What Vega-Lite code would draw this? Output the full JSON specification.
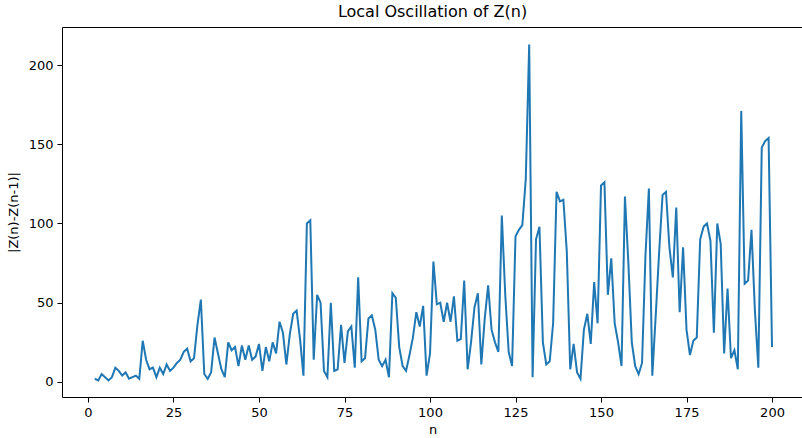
{
  "$schema": "https://vega.github.io/schema/vega-lite/v6.json",
  "width": 741,
  "height": 370,
  "autosize": "none",
  "padding": {"left": 62, "top": 27, "right": 0, "bottom": 41},
  "background": "white",
  "config": {
    "font": "DejaVu Sans",
    "view": {"stroke": "black", "strokeWidth": 1},
    "axis": {"grid": false, "domain": false, "tickColor": "black", "tickSize": 5, "tickWidth": 1, "labelColor": "black", "labelFontSize": 13, "labelPadding": 4, "titleColor": "black", "titleFontSize": 13, "titleFontWeight": "normal", "labelFont": "DejaVu Sans", "titleFont": "DejaVu Sans"}
  },
  "title": {"text": "Local Oscillation of Z(n)", "fontSize": 16, "fontWeight": "normal", "font": "DejaVu Sans", "color": "black", "offset": 7},
  "data": {"values": [
    {"n":2,"v":2},{"n":3,"v":1},{"n":4,"v":5},{"n":5,"v":3},{"n":6,"v":1},{"n":7,"v":3},{"n":8,"v":9},{"n":9,"v":7},{"n":10,"v":4},
    {"n":11,"v":6},{"n":12,"v":2},{"n":13,"v":3},{"n":14,"v":4},{"n":15,"v":2},{"n":16,"v":26},{"n":17,"v":14},{"n":18,"v":8},{"n":19,"v":9},{"n":20,"v":3},
    {"n":21,"v":9},{"n":22,"v":5},{"n":23,"v":11},{"n":24,"v":7},{"n":25,"v":9},{"n":26,"v":12},{"n":27,"v":14},{"n":28,"v":19},{"n":29,"v":21},{"n":30,"v":13},
    {"n":31,"v":15},{"n":32,"v":36},{"n":33,"v":52},{"n":34,"v":5},{"n":35,"v":2},{"n":36,"v":6},{"n":37,"v":28},{"n":38,"v":18},{"n":39,"v":8},{"n":40,"v":3},
    {"n":41,"v":25},{"n":42,"v":20},{"n":43,"v":22},{"n":44,"v":10},{"n":45,"v":23},{"n":46,"v":14},{"n":47,"v":23},{"n":48,"v":14},{"n":49,"v":16},{"n":50,"v":24},
    {"n":51,"v":7},{"n":52,"v":22},{"n":53,"v":13},{"n":54,"v":25},{"n":55,"v":18},{"n":56,"v":38},{"n":57,"v":31},{"n":58,"v":11},{"n":59,"v":30},{"n":60,"v":43},
    {"n":61,"v":45},{"n":62,"v":27},{"n":63,"v":4},{"n":64,"v":100},{"n":65,"v":102},{"n":66,"v":14},{"n":67,"v":55},{"n":68,"v":50},{"n":69,"v":7},{"n":70,"v":3},
    {"n":71,"v":50},{"n":72,"v":7},{"n":73,"v":8},{"n":74,"v":36},{"n":75,"v":12},{"n":76,"v":32},{"n":77,"v":35},{"n":78,"v":9},{"n":79,"v":66},{"n":80,"v":13},
    {"n":81,"v":15},{"n":82,"v":40},{"n":83,"v":42},{"n":84,"v":33},{"n":85,"v":14},{"n":86,"v":10},{"n":87,"v":14},{"n":88,"v":3},{"n":89,"v":56},{"n":90,"v":53},
    {"n":91,"v":22},{"n":92,"v":10},{"n":93,"v":7},{"n":94,"v":17},{"n":95,"v":28},{"n":96,"v":44},{"n":97,"v":35},{"n":98,"v":48},{"n":99,"v":4},{"n":100,"v":18},
    {"n":101,"v":76},{"n":102,"v":49},{"n":103,"v":50},{"n":104,"v":38},{"n":105,"v":50},{"n":106,"v":38},{"n":107,"v":54},{"n":108,"v":26},{"n":109,"v":27},{"n":110,"v":64},
    {"n":111,"v":8},{"n":112,"v":25},{"n":113,"v":47},{"n":114,"v":56},{"n":115,"v":11},{"n":116,"v":40},{"n":117,"v":61},{"n":118,"v":33},{"n":119,"v":25},{"n":120,"v":19},
    {"n":121,"v":105},{"n":122,"v":55},{"n":123,"v":19},{"n":124,"v":10},{"n":125,"v":92},{"n":126,"v":96},{"n":127,"v":99},{"n":128,"v":128},{"n":129,"v":213},{"n":130,"v":3},
    {"n":131,"v":90},{"n":132,"v":98},{"n":133,"v":25},{"n":134,"v":11},{"n":135,"v":13},{"n":136,"v":37},{"n":137,"v":120},{"n":138,"v":114},{"n":139,"v":115},{"n":140,"v":82},
    {"n":141,"v":8},{"n":142,"v":24},{"n":143,"v":6},{"n":144,"v":2},{"n":145,"v":33},{"n":146,"v":43},{"n":147,"v":24},{"n":148,"v":63},{"n":149,"v":37},{"n":150,"v":124},
    {"n":151,"v":126},{"n":152,"v":55},{"n":153,"v":78},{"n":154,"v":37},{"n":155,"v":25},{"n":156,"v":10},{"n":157,"v":117},{"n":158,"v":75},{"n":159,"v":25},{"n":160,"v":10},
    {"n":161,"v":5},{"n":162,"v":12},{"n":163,"v":80},{"n":164,"v":122},{"n":165,"v":4},{"n":166,"v":42},{"n":167,"v":82},{"n":168,"v":118},{"n":169,"v":120},{"n":170,"v":85},
    {"n":171,"v":66},{"n":172,"v":110},{"n":173,"v":44},{"n":174,"v":85},{"n":175,"v":33},{"n":176,"v":17},{"n":177,"v":26},{"n":178,"v":28},{"n":179,"v":90},{"n":180,"v":98},
    {"n":181,"v":100},{"n":182,"v":89},{"n":183,"v":31},{"n":184,"v":100},{"n":185,"v":87},{"n":186,"v":18},{"n":187,"v":59},{"n":188,"v":15},{"n":189,"v":20},{"n":190,"v":8},
    {"n":191,"v":171},{"n":192,"v":62},{"n":193,"v":64},{"n":194,"v":96},{"n":195,"v":45},{"n":196,"v":9},{"n":197,"v":148},{"n":198,"v":152},{"n":199,"v":154},{"n":200,"v":22}
  ]},
  "mark": {"type": "line", "color": "#1f77b4", "strokeWidth": 2, "clip": true},
  "encoding": {
    "x": {"field": "n", "type": "quantitative", "title": "n",
      "scale": {"domain": [-7.6, 209.06], "nice": false, "zero": false},
      "axis": {"values": [0, 25, 50, 75, 100, 125, 150, 175, 200], "titlePadding": 4}},
    "y": {"field": "v", "type": "quantitative", "title": "|Z(n)-Z(n-1)|",
      "scale": {"domain": [-9.5, 224], "nice": false, "zero": false},
      "axis": {"values": [0, 50, 100, 150, 200], "titlePadding": 8}}
  }
}
